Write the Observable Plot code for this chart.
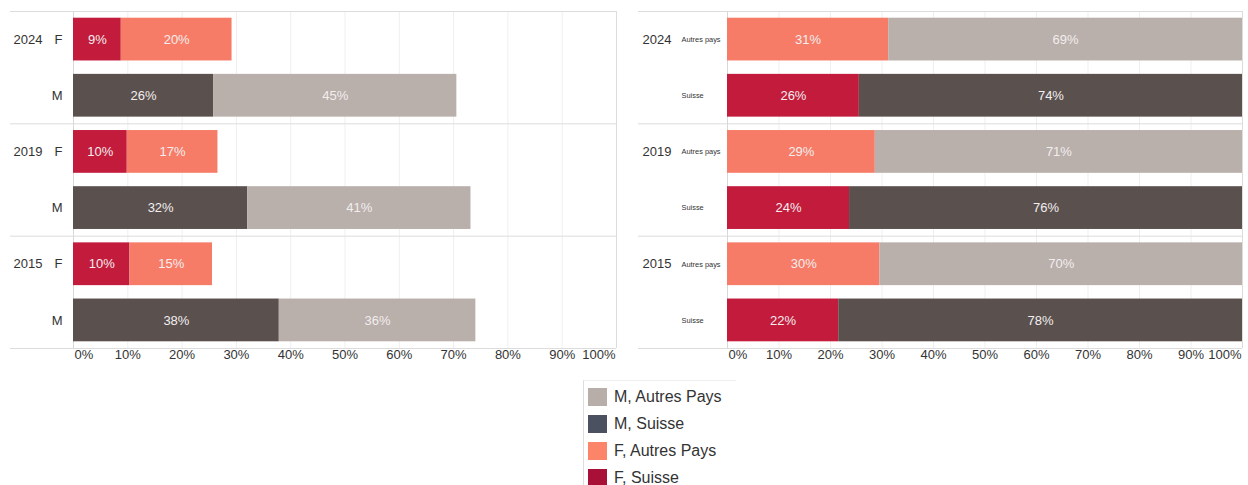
<!DOCTYPE html>
<html>
<head>
<meta charset="utf-8">
<script src="https://cdn.jsdelivr.net/npm/d3@7"></script>
<script src="https://cdn.jsdelivr.net/npm/@observablehq/plot@0.6"></script>
<style>
  html, body { margin: 0; padding: 0; background: #fff; }
  body { width: 1248px; height: 485px; position: relative; overflow: hidden; font-family: "Liberation Sans", Arial, sans-serif; }
  #charts { display: flex; position: absolute; left: 0; top: 0; }
  #legend { position: absolute; left: 583px; top: 380px; width: 152px; border-left: 1px solid #ddd; border-top: 1px solid #eee; padding-top: 2px; }
  .item { display: flex; align-items: center; height: 27px; }
  .sw { width: 19px; height: 18px; margin-left: 4px; margin-right: 7px; }
  .lb { font-size: 16px; color: #333; }
</style>
</head>
<body>
<div id="charts"></div>
<div id="legend"></div>
<script>
// ---------- data ----------
const years = ["2024", "2019", "2015"];
const sexLabels = ["F", "M"];
const originLabels = ["Autres pays", "Suisse"];

// Left panel: share of all persons (%)
const leftFSuisse = [8.8, 9.9, 10.4];
const leftFAutres = [20.4, 16.7, 15.2];
const leftMSuisse = [25.8, 32.1, 37.9];
const leftMAutres = [44.8, 41.1, 36.2];

// Right panel: share within each origin group (%)
const rightAutresF = [31.3, 28.7, 29.6];
const rightAutresM = [68.7, 71.3, 70.4];
const rightSuisseF = [25.6, 23.7, 21.6];
const rightSuisseM = [74.4, 76.3, 78.4];

const tickValues = [0, 10, 20, 30, 40, 50, 60, 70, 80, 90, 100];

const legendLabels = ["M, Autres Pays", "M, Suisse", "F, Autres Pays", "F, Suisse"];
const legendColors = ["#b8aea9", "#4b5160", "#fc8569", "#a81038"];

const barColors = { FS: "#c21b3c", FA: "#f77c68", MS: "#5a504e", MA: "#b9afab" };

// ---------- build rows ----------
function buildRows(spec) {
  const bars = [], labels = [];
  years.forEach((year, yi) => {
    spec.forEach((s, si) => {
      const row = yi * spec.length + si;
      labels.push({ row, year, sub: s.label, first: si === 0 });
      let acc = 0;
      s.segments.forEach(([key, vals]) => {
        const v = vals[yi];
        bars.push({ row, key, value: v, x1: acc, x2: acc + v });
        acc += v;
      });
    });
  });
  return { bars, labels };
}

const left = buildRows([
  { label: sexLabels[0], segments: [["FS", leftFSuisse], ["FA", leftFAutres]] },
  { label: sexLabels[1], segments: [["MS", leftMSuisse], ["MA", leftMAutres]] }
]);
const right = buildRows([
  { label: originLabels[0], segments: [["FA", rightAutresF], ["MA", rightAutresM]] },
  { label: originLabels[1], segments: [["FS", rightSuisseF], ["MS", rightSuisseM]] }
]);

function panel({ data, width, marginLeft, marginRight, sepLeft, yearDx, subDx, subAnchor, subSize }) {
  const height = 370, marginTop = 11, marginBottom = 22;
  const k = (width - marginLeft - marginRight) / 100;
  const sepX1 = -(marginLeft - sepLeft) / k;
  const nRows = years.length * 2;
  const seps = d3.range(0, nRows + 1, 2);
  return Plot.plot({
    width, height, marginLeft, marginRight, marginTop, marginBottom,
    style: { fontFamily: "'Liberation Sans', Arial, sans-serif", background: "#fff", overflow: "visible" },
    x: { domain: [0, 100], axis: null },
    y: { domain: [0, nRows], reverse: true, axis: null },
    color: { domain: Object.keys(barColors), range: Object.values(barColors) },
    marks: [
      Plot.ruleX(tickValues.filter(d => d > 0 && d < 100), { stroke: "#efefef" }),
      Plot.ruleY(seps, { x1: sepX1, x2: 100, stroke: "#dcdcdc" }),
      Plot.ruleX([0], { stroke: "#d8d8d8" }),
      Plot.ruleX([100], { stroke: "#dcdcdc" }),
      Plot.rect(data.bars, {
        x1: "x1", x2: "x2", y1: "row", y2: d => d.row + 1,
        insetTop: 6.7, insetBottom: 6.7, fill: "key"
      }),
      Plot.text(data.bars, {
        x: d => (d.x1 + d.x2) / 2, y: d => d.row + 0.5,
        text: d => Math.round(d.value) + "%", fill: "#f2eeee", fontSize: 13
      }),
      Plot.text(data.labels.filter(d => d.first), {
        y: d => d.row + 0.5, text: "year", frameAnchor: "left", dx: yearDx,
        textAnchor: "start", fontSize: 13, fill: "#333"
      }),
      Plot.text(data.labels, {
        y: d => d.row + 0.5, text: "sub", frameAnchor: "left", dx: subDx,
        textAnchor: subAnchor, fontSize: subSize, fill: "#333"
      }),
      Plot.text(tickValues.filter(d => d === 0), {
        x: d => d, frameAnchor: "bottom", dy: 10, text: d => d + "%",
        textAnchor: "start", fontSize: 13, fill: "#333", dx: 1
      }),
      Plot.text(tickValues.filter(d => d > 0 && d < 100), {
        x: d => d, frameAnchor: "bottom", dy: 10, text: d => d + "%",
        textAnchor: "middle", fontSize: 13, fill: "#333"
      }),
      Plot.text(tickValues.filter(d => d === 100), {
        x: d => d, frameAnchor: "bottom", dy: 10, text: d => d + "%",
        textAnchor: "end", fontSize: 13, fill: "#333", dx: -1
      })
    ]
  });
}

const charts = document.getElementById("charts");
charts.append(panel({
  data: left, width: 624, marginLeft: 73, marginRight: 8, sepLeft: 10,
  yearDx: -60, subDx: -11, subAnchor: "end", subSize: 13
}));
charts.append(panel({
  data: right, width: 624, marginLeft: 103, marginRight: 6, sepLeft: 14,
  yearDx: -85, subDx: -46, subAnchor: "start", subSize: 7.4
}));

const legend = document.getElementById("legend");
legendLabels.forEach((label, i) => {
  const item = document.createElement("div");
  item.className = "item";
  const sw = document.createElement("div");
  sw.className = "sw";
  sw.style.background = legendColors[i];
  const lb = document.createElement("span");
  lb.className = "lb";
  lb.textContent = label;
  item.append(sw, lb);
  legend.append(item);
});
</script>
</body>
</html>
